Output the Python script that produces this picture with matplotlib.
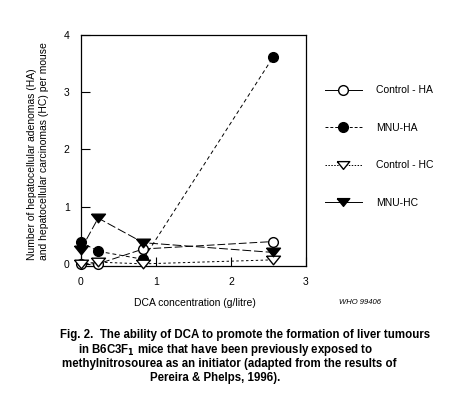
import matplotlib
matplotlib.use('Agg')
import matplotlib.pyplot as plt
from matplotlib.lines import Line2D

plt.rcParams['font.family'] = ['Liberation Sans', 'DejaVu Sans']

# DCA concentration (g/litre)
dca = [0, 0.23, 0.83, 2.56]
control_ha = [0, 0, 0.26, 0.39]
mnu_ha = [0.38, 0.22, 0.08, 3.61]
control_hc = [0, 0.03, 0, 0.07]
mnu_hc = [0.25, 0.8, 0.37, 0.2]

labels = ['Control - HA', 'MNU-HA', 'Control - HC', 'MNU-HC']

# flat, wide down-pointing triangle like the original
tri = [(-1, 0.62), (1, 0.62), (0, -0.62), (-1, 0.62)]

fig = plt.figure(figsize=(4.52, 3.98), dpi=100)
ax = fig.add_axes([0.179, 0.332, 0.498, 0.58])

lw = 0.7
ms = 7
tms = 10
ax.plot(dca, control_ha, color='black', lw=lw, dashes=(8, 3), marker='o',
        mfc='white', mec='black', ms=ms, clip_on=False, zorder=3)
ax.plot(dca, mnu_ha, color='black', lw=lw, dashes=(4, 3), marker='o',
        mfc='black', mec='black', ms=ms, clip_on=False, zorder=3)
ax.plot(dca, control_hc, color='black', lw=lw, dashes=(2.5, 2.5), marker=tri,
        mfc='white', mec='black', ms=tms, clip_on=False, zorder=3)
ax.plot(dca, mnu_hc, color='black', lw=lw, dashes=(9, 3), marker=tri,
        mfc='black', mec='black', ms=tms, clip_on=False, zorder=3)

ax.set_xlim(0, 3)
ax.set_ylim(-0.035, 4)
ax.set_xticks([0, 1, 2, 3])
ax.set_yticks([0, 1, 2, 3, 4])
ax.tick_params(direction='in', length=6.5, width=0.8, labelsize=7.5, pad=8,
               top=False, right=False)
for s in ax.spines.values():
    s.set_linewidth(0.9)

fig.text(195 / 452, 1 - 303 / 398, 'DCA concentration (g/litre)',
         ha='center', va='center', fontsize=7.5)
fig.text(360 / 452, 1 - 303 / 398, 'WHO 99406', ha='center', va='center',
         fontsize=5.5, style='italic')
fig.text(38 / 452, 1 - 260 / 398,
         'Number of hepatocellular adenomas (HA)\n'
         'and hepatocellular carcinomas (HC) per mouse',
         rotation=90, ha='center', va='bottom', multialignment='left',
         fontsize=7.5, linespacing=1.3)

handles = [
    Line2D([], [], color='black', lw=lw, ls='-', marker='o', mfc='white', mec='black', ms=ms),
    Line2D([], [], color='black', lw=lw, dashes=(3, 2), marker='o', mfc='black', mec='black', ms=ms),
    Line2D([], [], color='black', lw=lw, dashes=(1.5, 1.5), marker=tri, mfc='white', mec='black', ms=tms - 1),
    Line2D([], [], color='black', lw=lw, ls='-', marker=tri, mfc='black', mec='black', ms=tms - 1),
]
fig.legend(handles, labels, loc='upper left', bbox_to_anchor=(320 / 452, 1 - 80 / 398),
           frameon=False, fontsize=7.5, handlelength=3.5, handletextpad=1.4,
           labelspacing=2.65, borderpad=0)

caption = [
    (60, 335, 'Fig. 2.  The ability of DCA to promote the formation of liver tumours'),
    (78, 350, 'in B6C3F$_\\mathbf{1}$ mice that have been previously exposed to'),
    (62, 364, 'methylnitrosourea as an initiator (adapted from the results of'),
    (150, 378, 'Pereira & Phelps, 1996).'),
]
for x, y, t in caption:
    fig.text(x / 452, 1 - y / 398, t, ha='left', va='center', fontsize=8.3,
             fontweight='bold')

fig.savefig('out.png', dpi=100)
